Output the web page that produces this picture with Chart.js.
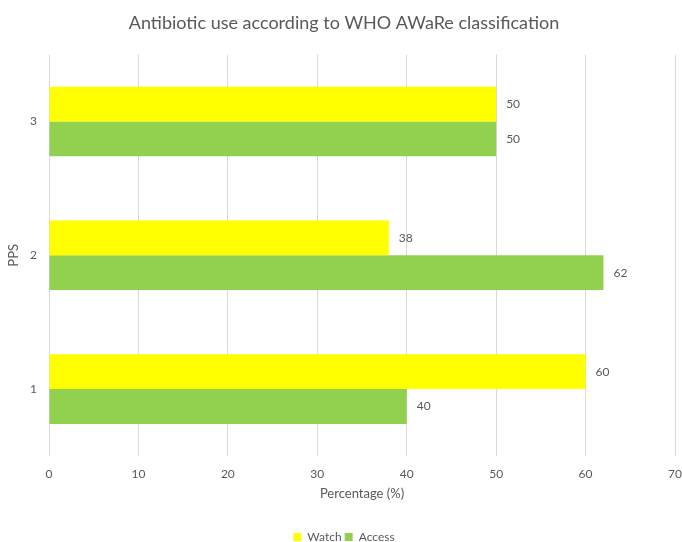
<!DOCTYPE html>
<html>
<head>
<meta charset="utf-8">
<script src="https://cdn.jsdelivr.net/npm/chart.js@4"></script>
<style>
  html, body { margin: 0; padding: 0; background: #fff; }
  #wrap { width: 682px; height: 542px; }
</style>
</head>
<body>
<div id="wrap"><canvas id="c" width="682" height="542"></canvas></div>
<script>
// Survey rounds (top to bottom) and share of antibiotic use per AWaRe group
const categories = ['3', '2', '1'];
const watchValues = [50, 38, 60];
const accessValues = [50, 62, 40];
const xTicks = [0, 10, 20, 30, 40, 50, 60, 70];

const textGray = '#595959';
const fontFamily = 'Lato, "Open Sans", sans-serif';

// Writes each bar's value just past its end
const valueLabels = {
  id: 'valueLabels',
  afterDatasetsDraw(chart) {
    const ctx = chart.ctx;
    ctx.save();
    ctx.font = '12px ' + fontFamily;
    ctx.fillStyle = textGray;
    ctx.textAlign = 'left';
    ctx.textBaseline = 'middle';
    chart.data.datasets.forEach((ds, i) => {
      const meta = chart.getDatasetMeta(i);
      meta.data.forEach((bar, j) => {
        ctx.fillText(String(ds.data[j]), bar.x + 10, bar.y);
      });
    });
    ctx.restore();
  }
};

new Chart(document.getElementById('c'), {
  type: 'bar',
  data: {
    labels: categories,
    datasets: [
      { label: 'Watch', data: watchValues, backgroundColor: '#ffff00' },
      { label: 'Access', data: accessValues, backgroundColor: '#92d050' }
    ]
  },
  options: {
    indexAxis: 'y',
    responsive: false,
    animation: false,
    layout: { padding: { left: 6, right: 0, top: 0, bottom: -11 } },
    datasets: { bar: { categoryPercentage: 0.52, barPercentage: 1.0 } },
    plugins: {
      title: {
        display: true,
        text: 'Antibiotic use according to WHO AWaRe classification',
        color: textGray,
        font: { family: fontFamily, size: 18, weight: 'normal' },
        padding: { top: 12, bottom: 21 }
      },
      legend: {
        position: 'bottom',
        labels: {
          color: textGray,
          font: { family: fontFamily, size: 12 },
          boxWidth: 8,
          boxHeight: 8,
          padding: 3
        }
      },
      tooltip: { enabled: false }
    },
    scales: {
      x: {
        min: 0,
        max: 70,
        afterBuildTicks(scale) { scale.ticks = xTicks.map(v => ({ value: v })); },
        afterFit(scale) { scale.paddingRight = 7; },
        grid: { color: '#d9d9d9', drawTicks: false, lineWidth: 1 },
        border: { display: false },
        ticks: { color: textGray, font: { family: fontFamily, size: 12 }, padding: 11 },
        title: {
          display: true,
          text: 'Percentage (%)',
          color: textGray,
          font: { family: fontFamily, size: 13 },
          padding: { top: -6, bottom: 26 }
        }
      },
      y: {
        grid: { display: false, drawTicks: false },
        border: { display: false },
        ticks: { color: textGray, font: { family: fontFamily, size: 12 }, padding: 12 },
        title: {
          display: true,
          text: 'PPS',
          color: textGray,
          font: { family: fontFamily, size: 13 },
          padding: { top: 0, bottom: 4 }
        },
        afterFit(scale) { scale.width = 43; }
      }
    }
  },
  plugins: [valueLabels]
});
</script>
</body>
</html>
